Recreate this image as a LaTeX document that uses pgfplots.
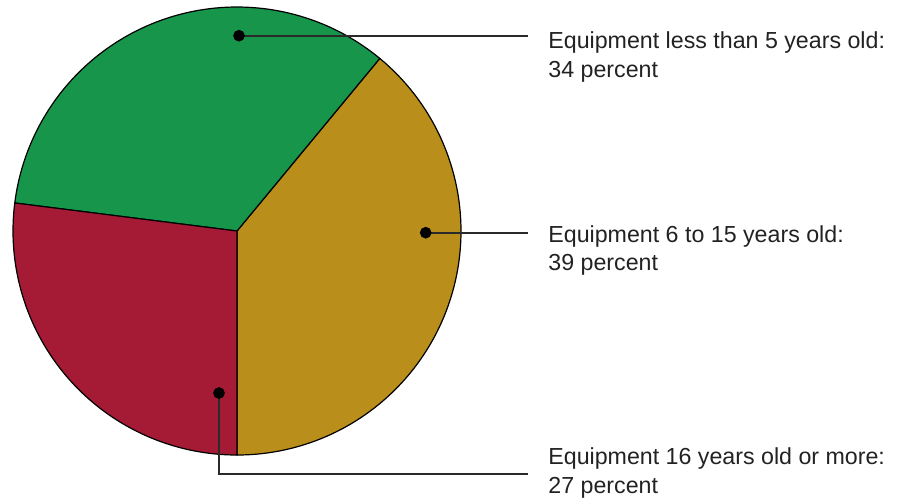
\documentclass[border=0pt]{standalone}
\usepackage{fontspec}
\setmainfont{Liberation Sans}
\usepackage{pgfplots}
\pgfplotsset{compat=1.18}

\definecolor{slicegreen}{HTML}{17954B}
\definecolor{slicegold}{HTML}{BA8E1A}
\definecolor{slicered}{HTML}{A51A35}
\definecolor{leader}{HTML}{2A2A2A}
\definecolor{labeltext}{HTML}{222222}

% Shares of equipment by age (percent)
\def\pctMid{39}   % 6 to 15 years
\def\pctNew{34}   % less than 5 years
\def\pctOld{27}   % 16 years or more

% Slice boundaries, counter-clockwise from straight down
\pgfmathsetmacro{\aStart}{-90}
\pgfmathsetmacro{\aOne}{\aStart+3.6*\pctMid}
\pgfmathsetmacro{\aTwo}{\aOne+3.6*\pctNew}
\pgfmathsetmacro{\aThree}{\aTwo+3.6*\pctOld}

\def\cx{237}
\def\cy{268}
\def\rr{224}

\begin{document}
\begin{tikzpicture}
\begin{axis}[
  scale only axis, width=454.5pt, height=249.5pt,
  xmin=0, xmax=909, ymin=0, ymax=499,
  hide axis, clip=false,
]
% pie slices
\addplot[fill=slicegold, draw=black, line width=0.6pt, domain=\aStart:\aOne, samples=90]
  ({\cx+\rr*cos(x)},{\cy+\rr*sin(x)}) -- (axis cs:\cx,\cy) -- cycle;
\addplot[fill=slicegreen, draw=black, line width=0.6pt, domain=\aOne:\aTwo, samples=90]
  ({\cx+\rr*cos(x)},{\cy+\rr*sin(x)}) -- (axis cs:\cx,\cy) -- cycle;
\addplot[fill=slicered, draw=black, line width=0.6pt, domain=\aTwo:\aThree, samples=90]
  ({\cx+\rr*cos(x)},{\cy+\rr*sin(x)}) -- (axis cs:\cx,\cy) -- cycle;

% leader lines
\addplot[leader, line width=0.9pt] coordinates {(239,463.3) (528,463.3)};
\addplot[leader, line width=0.9pt] coordinates {(425.7,266.3) (528,266.3)};
\addplot[leader, line width=0.9pt] coordinates {(219,106) (219,25) (528,25)};

% dots
\addplot[only marks, mark=*, mark size=2.7pt, black] coordinates {(239,463.3) (425.7,266.3) (219,106)};

% labels
\begin{scope}[every node/.style={anchor=base west, inner sep=0pt, text=labeltext, font=\fontsize{11.6}{14}\selectfont}]
\node at (axis cs:548,451) {Equipment less than 5 years old:};
\node at (axis cs:548,422) {34 percent};
\node at (axis cs:548,257) {Equipment 6 to 15 years old:};
\node at (axis cs:548,229) {39 percent};
\node at (axis cs:548,35) {Equipment 16 years old or more:};
\node at (axis cs:548,6) {27 percent};
\end{scope}
\end{axis}
% keep the full plotting area as the page
\path (current axis.south west) rectangle (current axis.north east);
\end{tikzpicture}
\end{document}
